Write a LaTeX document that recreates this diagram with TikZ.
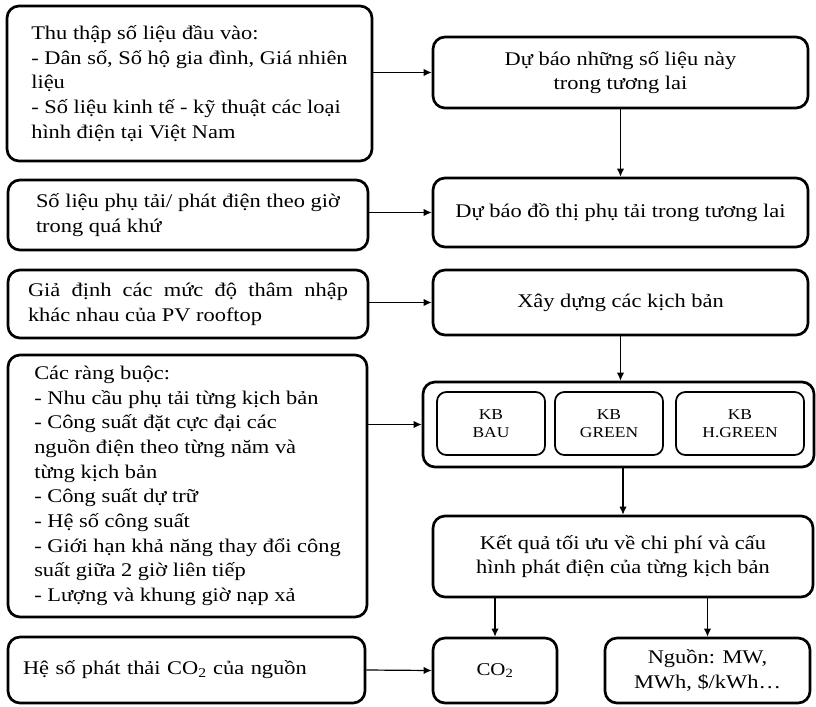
\documentclass[tikz,border=0pt]{standalone}
\usepackage{fontspec}
\setmainfont{Liberation Serif}[FakeStretch=1.16]
\usetikzlibrary{arrows.meta,calc}
\newdimen\pxu
\pxu=0.75pt
\begin{document}
\begin{tikzpicture}[x=0.75pt,y=-0.75pt,
  box/.style={draw, line width=2pt, rounded corners=9pt, align=center, inner sep=0pt,
    font=\fontsize{14.5}{18.5}\selectfont},
  kb/.style={draw, line width=1.3pt, rounded corners=7pt, align=center, inner sep=0pt,
    font=\fontsize{11.3}{13.3}\selectfont},
  arr/.style={-{Latex[length=6pt,width=5.5pt]}, line width=0.9pt}]
\useasboundingbox (0,0) rectangle (816,706);

% left column
\node[box, align=left, minimum width=365\pxu, minimum height=155\pxu] (L1) at (189.5,83.5)
  {Thu thập số liệu đầu vào:\\- Dân số, Số hộ gia đình, Giá nhiên\\liệu\\- Số liệu kinh tế - kỹ thuật các loại\\hình điện tại Việt Nam};
\node[box, align=left, minimum width=360\pxu, minimum height=70\pxu] (L2) at (188,215)
  {Số liệu phụ tải/ phát điện theo giờ\\trong quá khứ};
\node[box, align=left, minimum width=360\pxu, minimum height=68\pxu] (L3) at (188,304)
  {\makebox[240pt][s]{Giả định các mức độ thâm nhập}\\khác nhau của PV rooftop};
\node[box, align=left, minimum width=359\pxu, minimum height=262\pxu] (L4) at (187.5,486)
  {Các ràng buộc:\\- Nhu cầu phụ tải từng kịch bản\\- Công suất đặt cực đại các\\nguồn điện theo từng năm và\\từng kịch bản\\- Công suất dự trữ\\- Hệ số công suất\\- Giới hạn khả năng thay đổi công\\suất giữa 2 giờ liên tiếp\\- Lượng và khung giờ nạp xả};
\node[box, align=left, text width=327\pxu, minimum width=357\pxu, minimum height=66\pxu] (L5) at (186.5,670)
  {Hệ số phát thải CO\textsubscript{2} của nguồn};

% right column
\node[box, minimum width=375\pxu, minimum height=71\pxu] (R1) at (620.5,72.5)
  {Dự báo những số liệu này\\trong tương lai};
\node[box, minimum width=375\pxu, minimum height=69\pxu] (R2) at (620.5,212.5)
  {Dự báo đồ thị phụ tải trong tương lai};
\node[box, minimum width=375\pxu, minimum height=65\pxu] (R3) at (620.5,302.5)
  {Xây dựng các kịch bản};
\node[box, minimum width=391\pxu, minimum height=85\pxu] (R4) at (618.5,424.5) {};
\node[kb, minimum width=108\pxu, minimum height=63\pxu] (K1) at (491,423.5) {KB\\BAU};
\node[kb, minimum width=108\pxu, minimum height=63\pxu] (K2) at (609,423.5) {KB\\GREEN};
\node[kb, minimum width=128\pxu, minimum height=63\pxu] (K3) at (740,423.5) {KB\\H.GREEN};
\node[box, minimum width=380\pxu, minimum height=81\pxu] (R5) at (623,556.5)
  {Kết quả tối ưu về chi phí và cấu\\hình phát điện của từng kịch bản};
\node[box, font=\fontsize{13.5}{16}\selectfont, minimum width=124\pxu, minimum height=65\pxu] (CO) at (495,670.5)
  {CO\textsubscript{2}};
\node[box, minimum width=205\pxu, minimum height=65\pxu] (NG) at (707.5,670.5)
  {Nguồn: MW,\\MWh, \$/kWh…};

% connectors
\draw[arr] (L1.east |- R1.west) -- (R1.west);
\draw[arr] (R1.south) -- (R2.north);
\draw[arr] (L2.east |- R2.west) -- (R2.west);
\draw[arr] (L3.east |- R3.west) -- (R3.west);
\draw[arr] (R3.south) -- (R3.south |- R4.north);
\draw[arr] (L4.east |- R4.west) -- (R4.west);
\draw[arr] (R5.north |- R4.south) -- (R5.north);
\draw[arr] (CO.north |- R5.south) -- (CO.north);
\draw[arr] (NG.north |- R5.south) -- (NG.north);
\draw[arr] (L5.east) -- (CO.west);
\end{tikzpicture}
\end{document}
